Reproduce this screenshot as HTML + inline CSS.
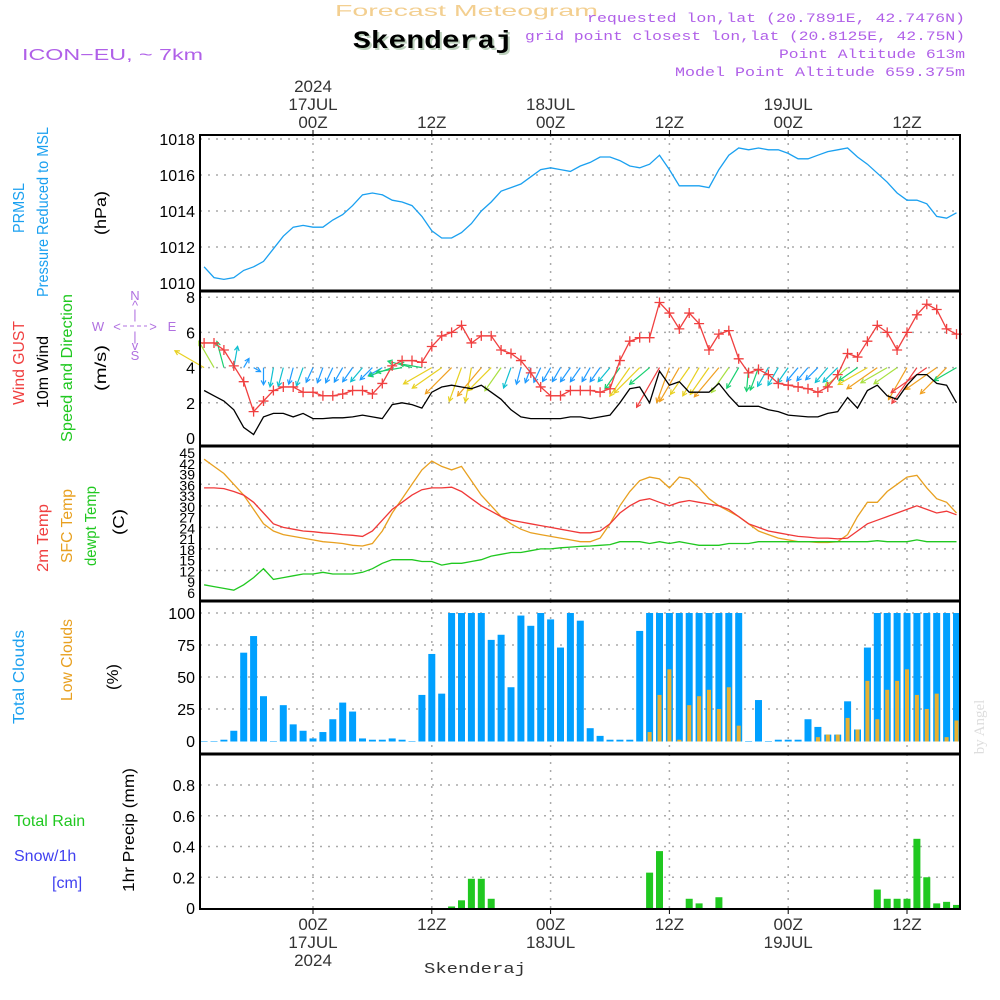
<!DOCTYPE html>
<html><head><meta charset="utf-8"><style>
html,body{margin:0;padding:0;background:#fff;}
svg{display:block;font-family:"Liberation Sans",sans-serif;}
</style></head><body>
<svg id="chart" width="1000" height="1000" viewBox="0 0 1000 1000" xmlns="http://www.w3.org/2000/svg">
<rect x="0" y="0" width="1000" height="1000" fill="#fff"/>
<text x="335" y="16" font-size="16" fill="#f3cf90" textLength="263" lengthAdjust="spacingAndGlyphs">Forecast Meteogram</text>
<text x="355" y="50" font-family="Liberation Mono" font-weight="bold" font-size="25" fill="#bcd0bc" textLength="160" lengthAdjust="spacingAndGlyphs">Skenderaj</text>
<text x="353" y="48" font-family="Liberation Mono" font-weight="bold" font-size="25" fill="#000" textLength="160" lengthAdjust="spacingAndGlyphs">Skenderaj</text>
<text x="22" y="60" font-size="16" fill="#b060e8" textLength="181" lengthAdjust="spacingAndGlyphs">ICON−EU, ~ 7km</text>
<g font-size="13" fill="#b060e8" text-anchor="end" font-family="Liberation Mono">
<text x="965" y="22" textLength="378" lengthAdjust="spacingAndGlyphs">requested lon,lat (20.7891E, 42.7476N)</text>
<text x="965" y="40" textLength="440" lengthAdjust="spacingAndGlyphs">grid point closest lon,lat (20.8125E, 42.75N)</text>
<text x="965" y="58" textLength="186" lengthAdjust="spacingAndGlyphs">Point Altitude 613m</text>
<text x="965" y="76" textLength="290" lengthAdjust="spacingAndGlyphs">Model Point Altitude 659.375m</text>
</g>
<g id="grid"></g>
<g id="marks"></g>
<g id="axes"></g>
<g id="labels" font-size="15"></g>
<text x="424" y="973" font-family="Liberation Mono" font-size="15" fill="#333" textLength="102" lengthAdjust="spacingAndGlyphs">Skenderaj</text>
<text transform="translate(984,727) rotate(-90)" text-anchor="middle" font-family="Liberation Serif" font-size="15" fill="#ddd">by Angel</text>
</svg>
<script>
// ---- data (hourly, hour 0 = 17JUL 00Z) ----
const startHour = -11;
const pressure = [1010.9,1010.3,1010.2,1010.3,1010.7,1010.9,1011.2,1011.9,1012.6,1013.1,1013.2,
1013.1,1013.1,1013.5,1013.8,1014.3,1014.9,1015.0,1014.9,1014.6,1014.5,1014.3,1013.7,
1012.9,1012.5,1012.5,1012.8,1013.3,1014.0,1014.5,1015.1,1015.3,1015.5,1015.9,1016.3,
1016.4,1016.3,1016.2,1016.5,1016.7,1017.0,1017.0,1016.8,1016.5,1016.4,1016.6,1017.1,
1016.3,1015.4,1015.4,1015.4,1015.3,1016.3,1017.1,1017.5,1017.4,1017.5,1017.4,1017.4,
1017.2,1016.9,1016.9,1017.1,1017.3,1017.4,1017.5,1017.0,1016.6,1016.1,1015.6,1015.0,
1014.6,1014.6,1014.4,1013.7,1013.6,1013.9];
const windGust = [5.4,5.4,5.0,4.1,3.2,1.5,2.1,2.7,2.9,2.9,2.6,
2.6,2.4,2.4,2.5,2.7,2.7,2.5,3.1,4.1,4.4,4.4,4.3,
5.2,5.8,6.0,6.4,5.4,5.8,5.8,5.0,4.8,4.4,3.7,2.9,
2.4,2.4,2.7,2.7,2.7,2.6,2.8,4.4,5.5,5.7,5.7,7.7,
7.1,6.2,7.1,6.5,5.0,5.9,6.1,4.5,3.7,3.9,3.6,3.1,
3.0,2.9,2.8,2.6,2.9,3.6,4.8,4.6,5.5,6.4,6.0,5.0,
6.0,7.0,7.6,7.3,6.2,5.9];
const windSpeed = [2.7,2.4,2.1,1.6,0.6,0.2,1.2,1.4,1.4,1.2,1.4,
1.1,1.1,1.15,1.15,1.2,1.3,1.2,1.1,1.9,2.0,1.9,1.7,
2.6,2.9,3.0,2.9,2.8,3.0,2.6,2.2,1.6,1.2,1.1,1.1,
1.1,1.1,1.2,1.2,1.1,1.2,1.3,2.0,2.8,2.9,2.0,3.8,
3.0,3.2,2.6,2.6,2.6,3.1,2.4,1.8,1.8,1.8,1.6,1.5,
1.3,1.25,1.2,1.2,1.4,1.5,2.3,1.7,2.7,3.0,2.4,2.2,
3.0,3.6,3.6,3.1,3.0,2.0];
const windDir = [300,330,345,10,30,120,180,190,195,195,200,
205,200,205,210,215,220,225,240,250,260,285,280,
240,235,225,200,190,220,225,215,200,195,200,205,
210,210,215,215,210,215,220,215,215,225,230,210,
200,210,215,210,215,220,215,210,185,200,210,210,
215,220,220,225,220,225,230,235,240,235,240,235,
210,215,235,235,225,240];
const temp2m = [35,35,34.8,34,33,31,28,25,24,23.5,23,
22.8,22.5,22.3,22,21.8,21.5,23,26,29,31,33,34.5,
35,35,35.2,34,32,30,28.5,27,26,25.5,25,24.5,
24,23.5,23,22.5,22.5,23,25,28,30,31.5,32,31,
30,31,31.5,31,30.5,30,29,27,25,24,23,22.5,
22,21.5,21.3,21,21,20.8,21,23,25,26,27,28,
29,30,29,28,28.5,27.5];
const tempSfc = [43,41,39,36,33,29,25,23,22,21.5,21,
20.5,20,19.8,19.5,19,18.8,19.5,23,28,32,36,40,
42.5,41,40,41,37,33,30,27,25,23.5,22.5,22,
21.5,21,20.5,20,20,21,25,30,34,37,38,37.5,
35,38,37.5,35,32,30,28.5,27,25,23,22,21,
20.5,20,20,19.8,19.8,20,22,27,31,31,34,36,
38,38.5,35,32,31,28];
const dewpt = [8,7.5,7,6.5,8,10,12.5,9.5,10,10.5,11,
11,11.5,11,11,11,11.5,12.5,14,15,15,15,14.5,
14.5,13.5,14,14,14.5,15,16,16.5,17,17,17.5,18,
18,18.3,18.5,18.7,18.8,19,19.2,20,20,20,19.5,20,
19.5,20,19.5,19,19,19,19.5,19.5,19.5,20,20,20,
20,20,20,20,20,20,20,20,20,20.3,20,20,
20,20.5,20,20,20,20];
const totalClouds = [0,0,1,8,69,82,35,0,28,13,8,
2,7,17,30,23,2,1,1,2,1,0,36,
68,37,100,100,100,100,79,83,42,98,90,100,
95,73,100,94,10,4,1,1,1,86,100,100,
100,100,100,100,100,100,100,100,0,32,0,1,
1,1,17,11,5,5,31,9,73,100,100,100,
100,100,100,100,100,100];
const lowClouds = [0,0,0,0,0,0,0,0,0,0,0,
0,0,0,0,0,0,0,0,0,0,0,0,
0,0,0,0,0,0,0,0,0,0,0,0,
0,0,0,0,0,0,0,0,0,0,7,36,
56,1,28,35,40,25,42,12,0,0,0,0,
0,0,0,3,5,5,18,9,47,17,40,47,
56,36,25,37,3,16];
const precip = [0,0,0,0,0,0,0,0,0,0,0,
0,0,0,0,0,0,0,0,0,0,0,0,
0,0,0.01,0.05,0.19,0.19,0.06,0,0,0,0,0,
0,0,0,0,0,0,0,0,0,0,0.23,0.37,
0,0,0.06,0.03,0,0.07,0,0,0,0,0,0,
0,0,0,0,0,0,0,0,0,0.12,0.06,0.06,
0.06,0.45,0.2,0.03,0.04,0.02];
const pressTicks = [1010,1012,1014,1016,1018];
const windTicks = [0,2,4,6,8];
const tempTicks = [6,9,12,15,18,21,24,27,30,33,36,39,42,45];
const cloudTicks = [0,25,50,75,100];
const precipTicks = [0,0.2,0.4,0.6,0.8];
const timeTicks = [0,12,24,36,48,60];
const timeTickLabels = ["00Z","12Z","00Z","12Z","00Z","12Z"];
const dayLabels = {0:"17JUL",24:"18JUL",48:"19JUL"};

// ---- scales ----
const X0=200, X1=960;
const xT = h => 313 + h*9.9;
const yP = v => 283-(v-1010)*18;
const yW = v => 438-v*17.6;
const yT = v => 592-(v-6)*3.59;
const yC = v => 741-v*1.28;
const yR = v => 908-v*153.75;
const NS="http://www.w3.org/2000/svg";
function mk(tag, attrs, parent){const e=document.createElementNS(NS,tag);for(const k in attrs)e.setAttribute(k,attrs[k]);parent.appendChild(e);return e;}
const G=document.getElementById('grid'),M=document.getElementById('marks'),A=document.getElementById('axes'),L=document.getElementById('labels');
const panels=[{t:135,b:291,ticks:pressTicks,y:yP,g:[1012,1014,1016,1018],name:'pressure'},
{t:291,b:446,ticks:windTicks,y:yW,g:[2,4,6,8],name:'wind'},
{t:446,b:601,ticks:tempTicks,y:yT,g:[12,18,24,30,36,42],name:'temperature'},
{t:601,b:754,ticks:cloudTicks,y:yC,g:[25,50,75,100],name:'clouds'},
{t:754,b:909,ticks:precipTicks,y:yR,g:[0.2,0.4,0.6,0.8],name:'precip'}];
panels.forEach(p=>{
  p.g.forEach(v=>{const l=mk('line',{x1:X0,x2:X1,y1:p.y(v),y2:p.y(v),stroke:'#aaa','stroke-width':1.5,'stroke-dasharray':'2 6'},G);
    
    });
  timeTicks.forEach(h=>{const l=mk('line',{x1:xT(h),x2:xT(h),y1:p.t,y2:p.b,stroke:'#aaa','stroke-width':1.5,'stroke-dasharray':'2 6'},G);
    
    });
  p.ticks.forEach(v=>{const t=mk('text',{x:195,y:p.y(v)+6,'text-anchor':'end','font-size':p.name==='temperature'?14:16},A);
    t.textContent=String(v);
    
    });
});
const fr=mk('rect',{x:X0,y:135,width:X1-X0,height:909-135,fill:'none',stroke:'#000','stroke-width':2},A);


[291,446,601,754].forEach(y=>{const l=mk('line',{x1:X0,x2:X1,y1:y,y2:y,stroke:'#000','stroke-width':3},A);
  
  });
timeTicks.forEach((h,i)=>{
  const x=xT(h);
  let t=mk('text',{x:x,y:128,'text-anchor':'middle','font-size':17,fill:'#333'},A);t.textContent=timeTickLabels[i];
  
  
  t=mk('text',{x:x,y:930,'text-anchor':'middle','font-size':17,fill:'#333'},A);t.textContent=timeTickLabels[i];
  
  
  mk('line',{x1:x,x2:x,y1:130,y2:135,stroke:'#000'},A);
  mk('line',{x1:x,x2:x,y1:909,y2:914,stroke:'#000'},A);
  if(dayLabels[h]){
    t=mk('text',{x:x,y:110,'text-anchor':'middle','font-size':17,fill:'#333'},A);t.textContent=dayLabels[h];
    
    
    t=mk('text',{x:x,y:948,'text-anchor':'middle','font-size':17,fill:'#333'},A);t.textContent=dayLabels[h];
    
    
  }
});
let yt=mk('text',{x:xT(0),y:92,'text-anchor':'middle','font-size':17,fill:'#333'},A);yt.textContent='2024';


yt=mk('text',{x:xT(0),y:966,'text-anchor':'middle','font-size':17,fill:'#333'},A);yt.textContent='2024';



function line(arr,yf,color,name,w){
  const pts=arr.map((v,i)=>xT(i+startHour).toFixed(1)+','+yf(v).toFixed(1)).join(' ');
  const e=mk('polyline',{points:pts,fill:'none',stroke:color,'stroke-width':w||1.3},M);
  
  
  return e;
}
line(pressure,yP,'#1aa0f0','pressure-line');
function wcol(s){return s<1.3?'#1e9bff':s<1.7?'#10c0d0':s<2.2?'#18d070':s<2.6?'#a8e040':s<3.0?'#e8d020':s<3.5?'#f0a020':'#f04040';}
windDir.forEach((d,i)=>{
  const s=windSpeed[i],x=xT(i+startHour),y=yW(4),len=Math.max(8,s*11+4),r=d*Math.PI/180;
  const x2=x+Math.sin(r)*len,y2=y-Math.cos(r)*len;
  const a1=r+Math.PI-0.5,a2=r+Math.PI+0.5,c=wcol(s);
  const g=mk('g',{stroke:c,'stroke-width':1.2,fill:'none'},M);
  
  
  mk('line',{x1:x,y1:y,x2:x2,y2:y2},g);
  mk('polyline',{points:`${x2+Math.sin(a1)*5},${y2-Math.cos(a1)*5} ${x2},${y2} ${x2+Math.sin(a2)*5},${y2-Math.cos(a2)*5}`},g);
});
line(windSpeed,yW,'#000','wind-speed-line');
line(windGust,yW,'#f04040','wind-gust-line');
windGust.forEach((v,i)=>{const x=xT(i+startHour),y=yW(v);
  const p=mk('path',{d:`M${x-5},${y}H${x+5}M${x},${y-5}V${y+5}`,stroke:'#f04040','stroke-width':1.3},M);
  
  });
line(tempSfc,yT,'#e8a020','sfc-temp-line');
line(temp2m,yT,'#f03838','temp-2m-line');
line(dewpt,yT,'#20c820','dewpoint-line');
totalClouds.forEach((v,i)=>{const x=xT(i+startHour);
  const r=mk('rect',{x:x-3.5,y:yC(v),width:7,height:Math.max(0,yC(0)-yC(v))+0.5,fill:'#00a0ff'},M);
  
  });
lowClouds.forEach((v,i)=>{if(v<=0)return;const x=xT(i+startHour);
  const r=mk('rect',{x:x-2,y:yC(v),width:4,height:yC(0)-yC(v)+0.5,fill:'#e8b030'},M);
  
  });
precip.forEach((v,i)=>{if(v<=0)return;const x=xT(i+startHour);
  const r=mk('rect',{x:x-3.5,y:yR(v),width:7,height:yR(0)-yR(v),fill:'#20c820'},M);
  
  });

function vlab(txt,x,y,col,name,len){
  const t=mk('text',{transform:`translate(${x},${y}) rotate(-90)`,'text-anchor':'middle',fill:col,'font-size':16},L);
  if(len){t.setAttribute('textLength',len);t.setAttribute('lengthAdjust','spacingAndGlyphs');}
  t.textContent=txt;
  
  
}
function hlab(txt,x,y,col,name){
  const t=mk('text',{x:x,y:y,fill:col,'font-size':16},L);t.textContent=txt;
  
  
}
vlab('PRMSL',24,208,'#1aa0f0','prmsl-label',50);
vlab('Pressure Reduced to MSL',48,212,'#1aa0f0','pressure-label',170);
vlab('(hPa)',106,213,'#000','pressure-unit-label',44);
vlab('Wind GUST',24,363,'#f04040','wind-gust-label',84);
vlab('10m Wind',48,372,'#000','wind-label',72);
vlab('Speed and Direction',72,368,'#20c820','wind-direction-label',148);
vlab('(m/s)',106,368,'#000','wind-unit-label',46);
vlab('2m Temp',48,538,'#f04040','temp-2m-label',68);
vlab('SFC Temp',72,526,'#e8a020','sfc-temp-label',74);
vlab('dewpt Temp',96,526,'#20c820','dewpoint-label',80);
vlab('(C)',124,522,'#000','temp-unit-label',26);
vlab('Total Clouds',24,677,'#1aa0f0','total-clouds-label',94);
vlab('Low Clouds',72,660,'#e8a020','low-clouds-label',82);
vlab('(%)',118,677,'#000','clouds-unit-label',26);
vlab('1hr Precip (mm)',134,830,'#000','precip-label',124);
hlab('Total  Rain',14,826,'#20c820','rain-legend');
hlab('Snow/1h',14,861,'#4040f0','snow-legend');
hlab('[cm]',52,888,'#4040f0','snow-unit-legend');
const cg=mk('g',{fill:'#b070e0','font-size':13,'text-anchor':'middle'},L);


[['N',135,300],['^',135,310],['|',135,319],['W',98,331],['<',117,331],['>',153,331],['E',172,331],['|',135,341],['v',135,350],['S',135,360]].forEach(a=>{const t=mk('text',{x:a[1],y:a[2]},cg);t.textContent=a[0];});
mk('line',{x1:123,x2:147,y1:326,y2:326,stroke:'#b070e0','stroke-dasharray':'4 3'},cg);
</script>
</body></html>
